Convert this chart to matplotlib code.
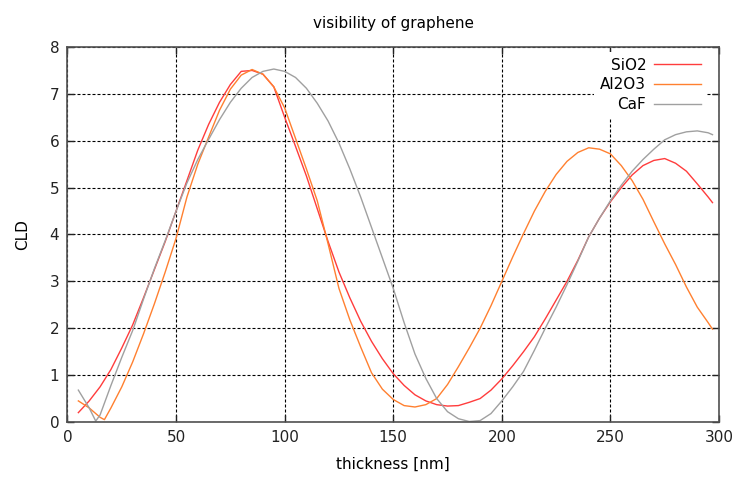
import numpy as np
import matplotlib.pyplot as plt

# values
sio2_x = [5, 10, 15, 20, 25, 30, 35, 40, 45, 50, 55, 60, 65, 70, 75, 80, 85, 90, 95,
          100, 105, 110, 115, 120, 125, 130, 135, 140, 145, 150, 155, 160, 165, 170,
          175, 180, 185, 190, 195, 200, 205, 210, 215, 220, 225, 230, 235, 240, 245,
          250, 255, 260, 265, 270, 275, 280, 285, 290, 295, 297]
sio2_y = [0.2, 0.45, 0.75, 1.12, 1.58, 2.07, 2.65, 3.25, 3.85, 4.5, 5.15, 5.8, 6.35,
          6.82, 7.2, 7.48, 7.5, 7.42, 7.15, 6.5, 5.88, 5.25, 4.55, 3.85, 3.2, 2.65,
          2.15, 1.72, 1.35, 1.03, 0.78, 0.58, 0.45, 0.37, 0.34, 0.35, 0.42, 0.5, 0.68,
          0.92, 1.2, 1.5, 1.82, 2.2, 2.6, 3.0, 3.45, 3.95, 4.35, 4.7, 5.0, 5.27, 5.47,
          5.58, 5.62, 5.52, 5.35, 5.08, 4.8, 4.68]

al2o3_x = [5, 10, 15, 17, 20, 25, 30, 35, 40, 45, 50, 55, 60, 65, 70, 75, 80, 85, 90,
           95, 100, 105, 110, 115, 120, 125, 130, 135, 140, 145, 150, 155, 160, 165,
           170, 175, 180, 185, 190, 195, 200, 205, 210, 215, 220, 225, 230, 235, 240,
           245, 250, 255, 260, 265, 270, 275, 280, 285, 290, 295, 297]
al2o3_y = [0.45, 0.3, 0.1, 0.05, 0.3, 0.75, 1.28, 1.88, 2.52, 3.2, 3.92, 4.8, 5.5,
           6.08, 6.65, 7.1, 7.4, 7.52, 7.42, 7.15, 6.7, 6.05, 5.4, 4.72, 3.8, 2.85,
           2.18, 1.6, 1.05, 0.7, 0.48, 0.35, 0.32, 0.37, 0.5, 0.8, 1.18, 1.58, 2.0,
           2.48, 3.0, 3.52, 4.02, 4.5, 4.92, 5.28, 5.56, 5.75, 5.85, 5.82, 5.72, 5.47,
           5.15, 4.75, 4.27, 3.8, 3.36, 2.88, 2.45, 2.12, 1.98]

caf_x = [5, 10, 13, 15, 20, 25, 30, 35, 40, 45, 50, 55, 60, 65, 70, 75, 80, 85, 90,
         95, 100, 105, 110, 115, 120, 125, 130, 135, 140, 145, 150, 155, 160, 165,
         170, 175, 180, 185, 190, 195, 200, 205, 210, 215, 220, 225, 230, 235, 240,
         245, 250, 255, 260, 265, 270, 275, 280, 285, 290, 295, 297]
caf_y = [0.68, 0.3, 0.02, 0.15, 0.78, 1.38, 1.95, 2.62, 3.27, 3.87, 4.5, 5.1, 5.6,
         6.03, 6.45, 6.82, 7.12, 7.35, 7.48, 7.53, 7.48, 7.35, 7.12, 6.8, 6.42, 5.95,
         5.4, 4.8, 4.15, 3.5, 2.85, 2.12, 1.45, 0.93, 0.5, 0.22, 0.07, 0.01, 0.03,
         0.18, 0.45, 0.75, 1.08, 1.53, 2.0, 2.45, 2.93, 3.43, 3.95, 4.35, 4.72, 5.05,
         5.35, 5.6, 5.82, 6.02, 6.13, 6.19, 6.21, 6.17, 6.13]

fig = plt.figure(figsize=(7.45, 4.83), dpi=100)
ax = fig.add_axes([0.0906, 0.1263, 0.8745, 0.7764])

ax.plot(sio2_x, sio2_y, color='#ff3c3c', lw=1.0, label='SiO2')
ax.plot(al2o3_x, al2o3_y, color='#ff8030', lw=1.0, label='Al2O3')
ax.plot(caf_x, caf_y, color='#a0a0a0', lw=1.0, label='CaF')

ax.set_xlim(0, 300)
ax.set_ylim(0, 8)
ax.set_xticks(np.arange(0, 301, 50))
ax.set_yticks(np.arange(0, 9, 1))
ax.grid(True, color='black', linestyle=(0, (2.7, 1.8)), linewidth=0.8)
ax.set_axisbelow(True)
ax.tick_params(direction='in', length=5, width=1, top=True, right=True,
               labelsize=11, colors='#222222', pad=6)
for sp in ax.spines.values():
    sp.set_color('#505050')
    sp.set_linewidth(1.2)

ax.set_title('visibility of graphene', fontsize=11, pad=14)
ax.set_xlabel('thickness [nm]', fontsize=11, labelpad=8)
ax.set_ylabel('CLD', fontsize=11, labelpad=14)

leg = ax.legend(loc='upper right', bbox_to_anchor=(0.989, 1.0), markerfirst=False,
                frameon=True, fancybox=False, edgecolor='none', framealpha=1,
                fontsize=11, handlelength=3.1, handletextpad=0.5,
                labelspacing=0.3, borderpad=0.4, borderaxespad=0.3)

fig.savefig('out.png', dpi=100)
